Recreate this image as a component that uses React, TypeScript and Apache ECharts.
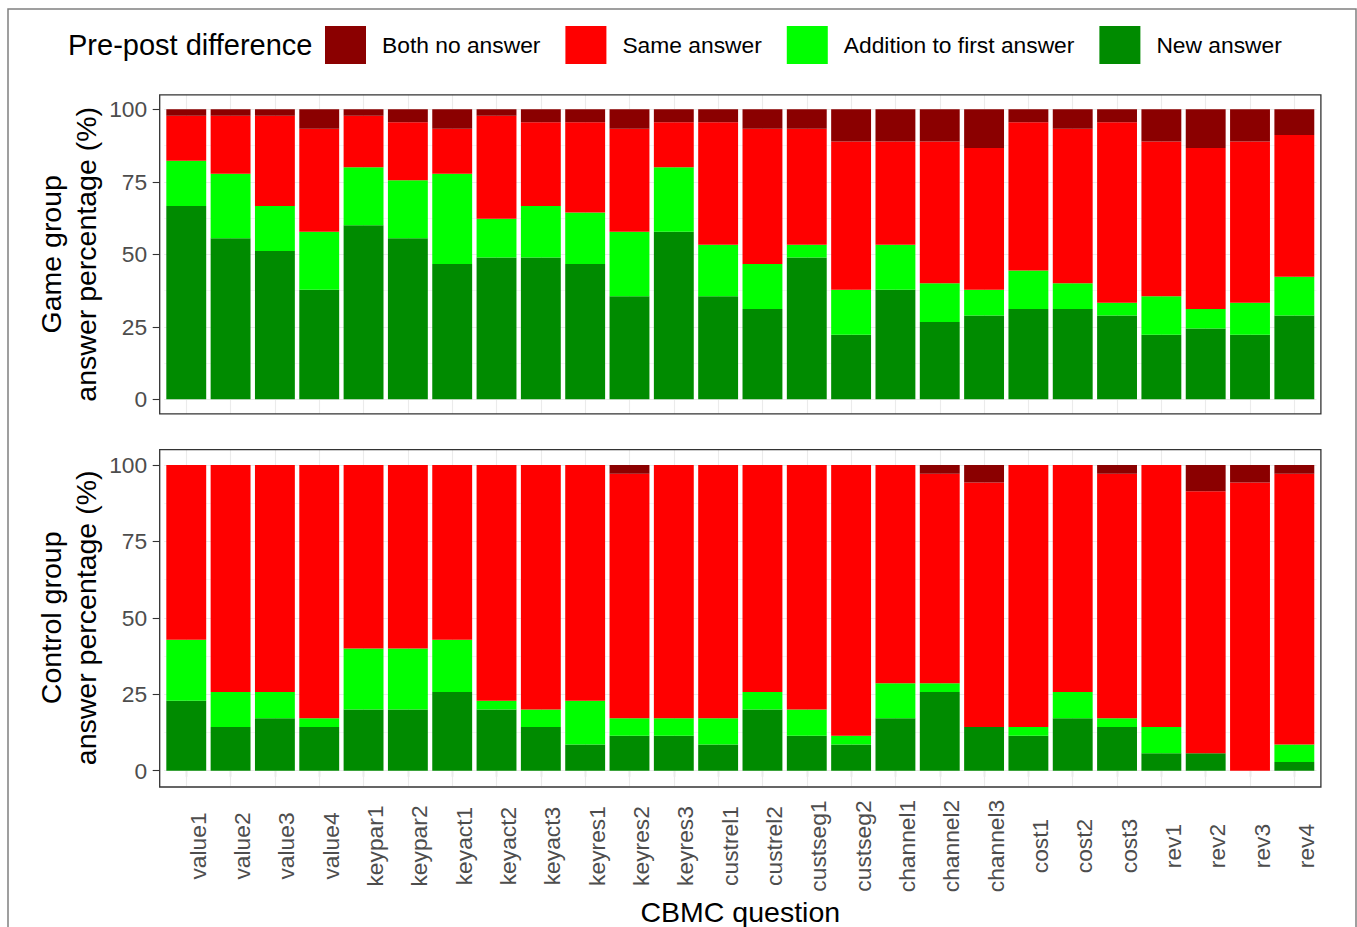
import React, { useEffect, useRef } from 'react';
import * as echarts from 'echarts';

const categories = [
  'value1', 'value2', 'value3', 'value4', 'keypar1', 'keypar2', 'keyact1', 'keyact2', 'keyact3',
  'keyres1', 'keyres2', 'keyres3', 'custrel1', 'custrel2', 'custseg1', 'custseg2',
  'channel1', 'channel2', 'channel3', 'cost1', 'cost2', 'cost3', 'rev1', 'rev2', 'rev3', 'rev4',
];

const legendOrder = ['Both no answer', 'Same answer', 'Addition to first answer', 'New answer'];

// respondent counts per question (Game group n = 45)
const gameGroupSize = 45;
const gameNew = [30, 25, 23, 17, 27, 25, 21, 22, 22, 21, 16, 26, 16, 14, 22, 10, 17, 12, 13, 14, 14, 13, 10, 11, 10, 13];
const gameAddition = [7, 10, 7, 9, 9, 9, 14, 6, 8, 8, 10, 10, 8, 7, 2, 7, 7, 6, 4, 6, 4, 2, 6, 3, 5, 6];
const gameSame = [7, 9, 14, 16, 8, 9, 7, 16, 13, 14, 16, 7, 19, 21, 18, 23, 16, 22, 22, 23, 24, 28, 24, 25, 25, 22];
const gameBoth = [1, 1, 1, 3, 1, 2, 3, 1, 2, 2, 3, 2, 2, 3, 3, 5, 5, 5, 6, 2, 3, 2, 5, 6, 5, 4];

// respondent counts per question (Control group n = 35)
const controlGroupSize = 35;
const controlNew = [8, 5, 6, 5, 7, 7, 9, 7, 5, 3, 4, 4, 3, 7, 4, 3, 6, 9, 5, 4, 6, 5, 2, 2, 0, 1];
const controlAddition = [7, 4, 3, 1, 7, 7, 6, 1, 2, 5, 2, 2, 3, 2, 3, 1, 4, 1, 0, 1, 3, 1, 3, 0, 0, 2];
const controlSame = [20, 26, 26, 29, 21, 21, 20, 27, 28, 27, 28, 29, 29, 26, 28, 31, 25, 24, 28, 30, 26, 28, 30, 30, 33, 31];
const controlBoth = [0, 0, 0, 0, 0, 0, 0, 0, 0, 0, 1, 0, 0, 0, 0, 0, 0, 1, 2, 0, 0, 1, 0, 3, 2, 1];

const yTicks = [0, 25, 50, 75, 100];
const yMinorTicks = [12.5, 37.5, 62.5, 87.5];

const colors: Record<string, string> = {
  'Both no answer': '#8B0000',
  'Same answer': '#FF0000',
  'Addition to first answer': '#00FF00',
  'New answer': '#008B00',
};

const FONT = '"Liberation Sans", Arial, Helvetica, sans-serif';

function groupSeries(gridIndex: number, stack: string, size: number, rows: { name: string; counts: number[] }[]) {
  return rows.map((row, k) => {
    const s: any = {
      type: 'bar',
      name: row.name,
      xAxisIndex: gridIndex,
      yAxisIndex: gridIndex,
      stack,
      barWidth: '90%',
      z: 2,
      itemStyle: { color: colors[row.name] },
      emphasis: { disabled: true },
      data: row.counts.map((c) => (c / size) * 100),
    };
    if (k === 0) {
      s.markLine = {
        silent: true,
        z: 1,
        symbol: ['none', 'none'],
        label: { show: false },
        emphasis: { disabled: true },
        lineStyle: { type: 'solid', color: '#EBEBEB', width: 1.1 },
        data: [
          ...categories.map((_, i) => ({ xAxis: i })),
          ...yTicks.map((v) => ({ yAxis: v })),
          ...yMinorTicks.map((v) => ({ yAxis: v, lineStyle: { type: 'solid', color: '#EBEBEB', width: 0.55 } })),
        ],
      };
    }
    return s;
  });
}

export default function App() {
  const ref = useRef<HTMLDivElement>(null);

  useEffect(() => {
    const chart = echarts.init(ref.current!, null, { renderer: 'svg' });

    const grids = [
      { left: 164.1, right: 40.5, top: 94.8, height: 319 },
      { left: 164.1, right: 40.5, top: 449.7, height: 337.3 },
    ];

    const yAxisBase = (gridIndex: number, name: string) => ({
      gridIndex,
      type: 'value',
      min: -5,
      max: 105,
      offset: 4.4,
      axisLine: { show: false },
      splitLine: { show: false },
      axisTick: { show: true, length: 7, customValues: yTicks, lineStyle: { color: '#333333', width: 1.1 } },
      axisLabel: { customValues: yTicks, margin: 12.5, fontSize: 22.8, color: '#4D4D4D', fontFamily: FONT },
      name,
      nameLocation: 'middle',
      nameRotate: 90,
      nameGap: 56,
      nameMoveOverlap: false,
      nameTextStyle: { fontSize: 28.5, color: '#000000', lineHeight: 35, fontFamily: FONT },
    });

    const option: any = {
      animation: false,
      textStyle: { fontFamily: FONT },
      title: {
        text: 'Pre-post difference',
        left: 68,
        top: 30,
        padding: 0,
        textStyle: { fontSize: 29, fontWeight: 'normal', color: '#000000', fontFamily: FONT },
      },
      legend: {
        data: legendOrder,
        left: 325,
        top: 26,
        padding: 0,
        orient: 'horizontal',
        icon: 'rect',
        itemWidth: 41,
        itemHeight: 38,
        itemGap: 25,
        selectedMode: false,
        textStyle: { fontSize: 22.8, color: '#000000', padding: [0, 0, 0, 11], fontFamily: FONT },
      },
      grid: grids,
      xAxis: [
        {
          gridIndex: 0,
          type: 'category',
          data: categories,
          axisLine: { show: false },
          axisTick: { show: false },
          axisLabel: { show: false },
          splitLine: { show: false },
        },
        {
          gridIndex: 1,
          type: 'category',
          data: categories,
          axisLine: { show: false },
          axisTick: { show: true, alignWithLabel: true, length: 6, lineStyle: { color: '#333333', width: 1.1 } },
          axisLabel: {
            interval: 0,
            rotate: 90,
            align: 'center',
            verticalAlign: 'top',
            margin: 60,
            fontSize: 22.8,
            color: '#4D4D4D',
            fontFamily: FONT,
          },
          splitLine: { show: false },
          name: 'CBMC question',
          nameLocation: 'middle',
          nameGap: 111,
          nameMoveOverlap: false,
          nameTextStyle: { fontSize: 28.5, color: '#000000', fontFamily: FONT },
        },
      ],
      yAxis: [
        yAxisBase(0, 'Game group\nanswer percentage (%)'),
        yAxisBase(1, 'Control group\nanswer percentage (%)'),
      ],
      series: [
        ...groupSeries(0, 'game', gameGroupSize, [
          { name: 'New answer', counts: gameNew },
          { name: 'Addition to first answer', counts: gameAddition },
          { name: 'Same answer', counts: gameSame },
          { name: 'Both no answer', counts: gameBoth },
        ]),
        ...groupSeries(1, 'control', controlGroupSize, [
          { name: 'New answer', counts: controlNew },
          { name: 'Addition to first answer', counts: controlAddition },
          { name: 'Same answer', counts: controlSame },
          { name: 'Both no answer', counts: controlBoth },
        ]),
      ],
      graphic: [
        {
          type: 'rect',
          z: 100,
          silent: true,
          shape: { x: 8, y: 9, width: 1348, height: 1000 },
          style: { fill: 'none', stroke: '#808080', lineWidth: 1.5 },
        },
        {
          type: 'rect',
          z: 100,
          silent: true,
          shape: { x: 159.7, y: 94.8, width: 1161.2, height: 319 },
          style: { fill: 'none', stroke: '#333333', lineWidth: 1.3 },
        },
        {
          type: 'rect',
          z: 100,
          silent: true,
          shape: { x: 159.7, y: 449.7, width: 1161.2, height: 337.3 },
          style: { fill: 'none', stroke: '#333333', lineWidth: 1.3 },
        },
      ],
    };

    chart.setOption(option);
    return () => chart.dispose();
  }, []);

  return <div ref={ref} style={{ position: 'absolute', left: 0, top: 0, width: 1357, height: 927 }} />;
}
